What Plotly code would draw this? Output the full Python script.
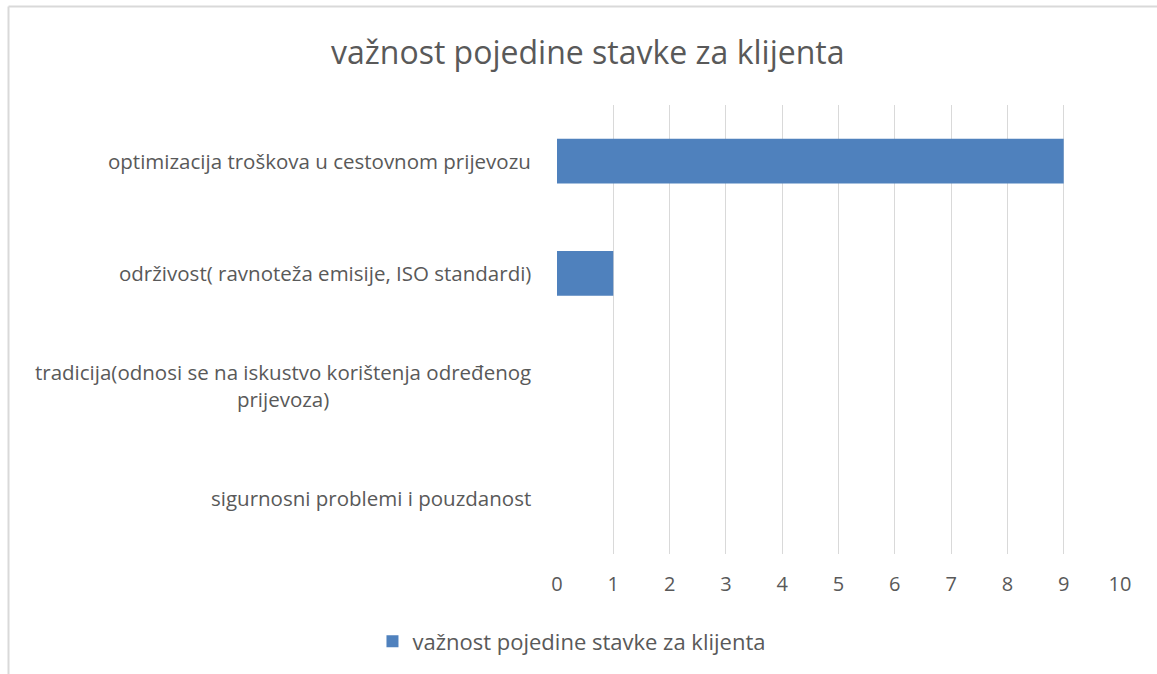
import plotly.graph_objects as go

categories = [
    "sigurnosni problemi i pouzdanost",
    "tradicija(odnosi se na iskustvo korištenja određenog<br>prijevoza)",
    "održivost( ravnoteža emisije, ISO standardi)",
    "optimizacija troškova u cestovnom prijevozu",
]
values = [0, 0, 1, 9]
series_name = "važnost pojedine stavke za klijenta"
title_text = "važnost pojedine stavke za klijenta"
x_ticks = [0, 1, 2, 3, 4, 5, 6, 7, 8, 9, 10]

FONT = "Open Sans, sans-serif"
TXT = "#595959"

fig = go.Figure()
fig.add_trace(go.Bar(
    y=categories, x=values, orientation="h", name=series_name,
    marker=dict(color="#4F81BD", line=dict(width=0)),
    showlegend=True,
))

annotations = []
for c in categories:
    annotations.append(dict(
        x=0, xref="x domain", y=c, yref="y", xanchor="right", yanchor="middle",
        xshift=-24, text=c, showarrow=False, align="center",
        font=dict(family=FONT, size=20.5, color=TXT),
    ))

fig.update_layout(
    width=1157, height=674,
    margin=dict(l=557, r=37, t=105, b=120),
    paper_bgcolor="white", plot_bgcolor="white",
    title=dict(text=title_text, x=0.508, xanchor="center", y=0.921, yanchor="middle",
               font=dict(family=FONT, size=32, color=TXT)),
    bargap=0.6,
    xaxis=dict(range=[0, 10], tickvals=x_ticks, showgrid=True, gridcolor="#D9D9D9",
               gridwidth=1, zeroline=False, showline=False, ticks="",
               tickfont=dict(family=FONT, size=20, color=TXT), ticklabelstandoff=16),
    yaxis=dict(showticklabels=False, showgrid=False, zeroline=False, showline=False),
    legend=dict(orientation="h", x=0.0266, xanchor="center", y=-0.195, yanchor="middle",
                font=dict(family=FONT, size=22, color=TXT), itemwidth=30),
    annotations=annotations,
)
# chart border (Excel chart area outline, partially cropped)
fig.add_shape(type="line", xref="paper", yref="paper",
              x0=(8.5 - 557) / 563, x1=(1160 - 557) / 563,
              y0=(554 - 6.5) / 449, y1=(554 - 6.5) / 449,
              line=dict(color="#D9D9D9", width=2))
fig.add_shape(type="line", xref="paper", yref="paper",
              x0=(8.5 - 557) / 563, x1=(8.5 - 557) / 563,
              y0=(554 - 6.5) / 449, y1=(554 - 680) / 449,
              line=dict(color="#D9D9D9", width=2))

fig.write_html("out.html", config={"displayModeBar": False},
               post_script="document.body.style.margin='0';")
